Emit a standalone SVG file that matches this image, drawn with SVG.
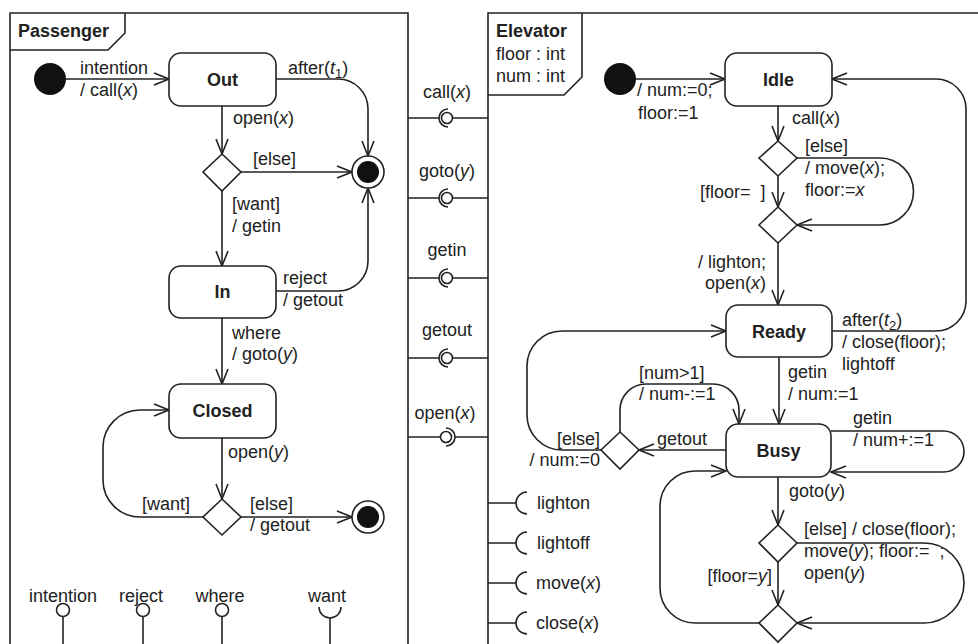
<svg xmlns="http://www.w3.org/2000/svg" width="978" height="644" viewBox="0 0 978 644">
<style>
.t{font-family:"Liberation Sans",Arial,sans-serif;font-size:18px;fill:#222}
.b{font-weight:bold}
.i{font-style:italic}
.e{text-anchor:end}
.m{text-anchor:middle}
.ln{fill:none;stroke:#222;stroke-width:1.6}
.ar{fill:none;stroke:#222;stroke-width:1.6;marker-end:url(#arr)}
.st{fill:#fff;stroke:#222;stroke-width:1.6}
.dot{fill:#111}
</style>
<defs>
<marker id="arr" viewBox="0 0 17 14" refX="16" refY="7" markerWidth="17" markerHeight="14" orient="auto" markerUnits="userSpaceOnUse">
<path d="M1,1 L16,7 L1,13" fill="none" stroke="#222" stroke-width="1.6"/>
</marker>
</defs>
<rect width="978" height="644" fill="#fff"/>

<g id="frame-passenger">
<path class="ln" d="M10,660 V13 H408 V660"/>
<path class="ln" d="M10,50 H108 L125,33 V13"/>
<text class="t b" x="18" y="37">Passenger</text>
</g>

<g id="frame-elevator">
<path class="ln" d="M488,660 V13 H990"/>
<path class="ln" d="M488,95 H564 L582,77 V13"/>
<text class="t b" x="496" y="37">Elevator</text>
<text class="t" x="496" y="60">floor : int</text>
<text class="t" x="496" y="82">num : int</text>
</g>

<g id="connectors">
<path class="ar" d="M66,79 H169"/>
<path class="ar" d="M276,79 H338 A30,30 0 0 1 368,109 V156"/>
<path class="ar" d="M222,106 V154"/>
<path class="ar" d="M241,172 H352"/>
<path class="ar" d="M222,191 V266"/>
<path class="ar" d="M276,291 H338 A30,30 0 0 0 368,261 V188"/>
<path class="ar" d="M222,318 V384"/>
<path class="ar" d="M222,438 V499"/>
<path class="ar" d="M203,517 H140 A37,37 0 0 1 103,480 V447 A37,37 0 0 1 140,410 H169"/>
<path class="ar" d="M241,517 H352"/>

<path class="ar" d="M636,79 H725"/>
<path class="ar" d="M778,106 V141"/>
<path class="ar" d="M778,176 V207"/>
<path class="ar" d="M797,158 H880 A33.5,33.5 0 0 1 880,225 H797"/>
<path class="ar" d="M778,243 V305"/>
<path class="ar" d="M832,331 H936 A30,30 0 0 0 966,301 V109 A30,30 0 0 0 936,79 H832"/>
<path class="ar" d="M779,357 V424"/>
<path class="ar" d="M831,431 H943.5 A20.5,20.5 0 0 1 943.5,472 H831"/>
<path class="ar" d="M726,450 H639"/>
<path class="ar" d="M620,432 V410 A26,26 0 0 1 646,384 H713 A26,26 0 0 1 739,410 V424"/>
<path class="ar" d="M601,450 H562 A35,35 0 0 1 527,415 V366 A35,35 0 0 1 562,331 H726"/>
<path class="ar" d="M778,477 V525"/>
<path class="ar" d="M778,562 V605"/>
<path class="ar" d="M797,543 H924 A40,40 0 0 1 924,623 H797"/>
<path class="ar" d="M759,623 H695 A35,35 0 0 1 660,588 V506 A35,35 0 0 1 695,471 H726"/>
</g>

<g id="connector-labels">
<text class="t" x="80" y="74">intention</text>
<text class="t" x="80" y="96">/ call(<tspan class="i">x</tspan>)</text>
<text class="t" x="288" y="74">after(<tspan class="i">t</tspan><tspan font-size="13" dy="4">1</tspan><tspan dy="-4">)</tspan></text>
<text class="t" x="233" y="124">open(<tspan class="i">x</tspan>)</text>
<text class="t" x="253" y="165">[else]</text>
<text class="t" x="232" y="210">[want]</text>
<text class="t" x="232" y="232">/ getin</text>
<text class="t" x="283" y="284">reject</text>
<text class="t" x="283" y="306">/ getout</text>
<text class="t" x="232" y="339">where</text>
<text class="t" x="232" y="360">/ goto(<tspan class="i">y</tspan>)</text>
<text class="t" x="228" y="458">open(<tspan class="i">y</tspan>)</text>
<text class="t" x="142" y="510">[want]</text>
<text class="t" x="250" y="510">[else]</text>
<text class="t" x="250" y="531">/ getout</text>

<text class="t" x="637" y="96">/ num:=0;</text>
<text class="t" x="638" y="119">floor:=1</text>
<text class="t" x="792" y="124">call(<tspan class="i">x</tspan>)</text>
<text class="t" x="805" y="152">[else]</text>
<text class="t" x="805" y="174">/ move(<tspan class="i">x</tspan>);</text>
<text class="t" x="805" y="196">floor:=<tspan class="i">x</tspan></text>
<text class="t" x="700" y="198" xml:space="preserve">[floor=  ]</text>
<text class="t e" x="766" y="268">/ lighton;</text>
<text class="t e" x="766" y="289">open(<tspan class="i">x</tspan>)</text>
<text class="t" x="842" y="326">after(<tspan class="i">t</tspan><tspan font-size="13" dy="4">2</tspan><tspan dy="-4">)</tspan></text>
<text class="t" x="842" y="348">/ close(floor);</text>
<text class="t" x="842" y="370">lightoff</text>
<text class="t" x="788" y="378">getin</text>
<text class="t" x="788" y="400">/ num:=1</text>
<text class="t" x="639" y="379">[num&gt;1]</text>
<text class="t" x="639" y="400">/ num-:=1</text>
<text class="t" x="657" y="445">getout</text>
<text class="t e" x="600" y="445">[else]</text>
<text class="t e" x="600" y="466">/ num:=0</text>
<text class="t" x="853" y="424">getin</text>
<text class="t" x="853" y="446">/ num+:=1</text>
<text class="t" x="789" y="497">goto(<tspan class="i">y</tspan>)</text>
<text class="t" x="804" y="535">[else] / close(floor);</text>
<text class="t" x="804" y="557" xml:space="preserve">move(<tspan class="i">y</tspan>); floor:=  ;</text>
<text class="t" x="804" y="579">open(<tspan class="i">y</tspan>)</text>
<text class="t e" x="772" y="582">[floor=<tspan class="i">y</tspan>]</text>
</g>

<g id="p-initial"><circle class="dot" cx="50" cy="79" r="16"/></g>
<g id="p-out"><rect class="st" x="169" y="53" width="107" height="53" rx="12"/><text class="t b m" x="222.5" y="86">Out</text></g>
<g id="p-choice1"><polygon class="st" points="222,154 241,172 222,191 203,172"/></g>
<g id="p-final1"><circle class="st" cx="368" cy="172" r="16"/><circle class="dot" cx="368" cy="172" r="11"/></g>
<g id="p-in"><rect class="st" x="169" y="266" width="107" height="52" rx="12"/><text class="t b m" x="222.5" y="298">In</text></g>
<g id="p-closed"><rect class="st" x="169" y="384" width="107" height="54" rx="12"/><text class="t b m" x="222.5" y="417">Closed</text></g>
<g id="p-choice2"><polygon class="st" points="222,499 241,517 222,535 203,517"/></g>
<g id="p-final2"><circle class="st" cx="368" cy="517" r="16"/><circle class="dot" cx="368" cy="517" r="11"/></g>

<g id="p-port-intention"><text class="t m" x="63" y="602">intention</text><circle class="st" cx="63" cy="610" r="6.5"/><path class="ln" d="M63,616.5 V660"/></g>
<g id="p-port-reject"><text class="t m" x="141" y="602">reject</text><circle class="st" cx="143" cy="610" r="6.5"/><path class="ln" d="M143,616.5 V660"/></g>
<g id="p-port-where"><text class="t m" x="220" y="602">where</text><circle class="st" cx="222" cy="610" r="6.5"/><path class="ln" d="M222,616.5 V660"/></g>
<g id="p-port-want"><text class="t m" x="327" y="602">want</text><path class="ln" d="M319,607 A11,11 0 0 0 341,607"/><path class="ln" d="M330,618 V660"/></g>

<g id="e-initial"><circle class="dot" cx="620" cy="79" r="16"/></g>
<g id="e-idle"><rect class="st" x="725" y="53" width="107" height="53" rx="12"/><text class="t b m" x="778.5" y="86">Idle</text></g>
<g id="e-choice3"><polygon class="st" points="778,141 797,158 778,176 759,158"/></g>
<g id="e-choice4"><polygon class="st" points="778,207 797,225 778,243 759,225"/></g>
<g id="e-ready"><rect class="st" x="726" y="305" width="106" height="52" rx="12"/><text class="t b m" x="779" y="338">Ready</text></g>
<g id="e-busy"><rect class="st" x="726" y="424" width="105" height="53" rx="12"/><text class="t b m" x="778.5" y="457">Busy</text></g>
<g id="e-choice5"><polygon class="st" points="620,432 639,450 620,469 601,450"/></g>
<g id="e-choice6"><polygon class="st" points="778,525 797,543 778,562 759,543"/></g>
<g id="e-choice7"><polygon class="st" points="778,605 797,623 778,642 759,623"/></g>

<g id="if-call"><text class="t m" x="447" y="98">call(<tspan class="i">x</tspan>)</text><path class="ln" d="M408,118 H439 M453,118 H488"/><path class="ln" d="M448,109 A9,9 0 0 0 448,127"/><circle class="st" cx="447" cy="118" r="5.5"/></g>
<g id="if-goto"><text class="t m" x="447" y="177">goto(<tspan class="i">y</tspan>)</text><path class="ln" d="M408,198 H439 M453,198 H488"/><path class="ln" d="M448,189 A9,9 0 0 0 448,207"/><circle class="st" cx="447" cy="198" r="5.5"/></g>
<g id="if-getin"><text class="t m" x="447" y="256">getin</text><path class="ln" d="M408,278 H439 M453,278 H488"/><path class="ln" d="M448,269 A9,9 0 0 0 448,287"/><circle class="st" cx="447" cy="278" r="5.5"/></g>
<g id="if-getout"><text class="t m" x="447" y="336">getout</text><path class="ln" d="M408,358 H439 M453,358 H488"/><path class="ln" d="M448,349 A9,9 0 0 0 448,367"/><circle class="st" cx="447" cy="358" r="5.5"/></g>
<g id="if-open"><text class="t m" x="445" y="419">open(<tspan class="i">x</tspan>)</text><path class="ln" d="M408,437 H440.5 M455,437 H488"/><path class="ln" d="M446,428 A9,9 0 0 1 446,446"/><circle class="st" cx="446" cy="437" r="5.5"/></g>

<g id="e-req-lighton"><path class="ln" d="M488,503 H516 M527,492 A11,11 0 0 0 527,514"/><text class="t" x="537" y="509">lighton</text></g>
<g id="e-req-lightoff"><path class="ln" d="M488,543 H516 M527,532 A11,11 0 0 0 527,554"/><text class="t" x="537" y="549">lightoff</text></g>
<g id="e-req-move"><path class="ln" d="M488,583 H516 M527,572 A11,11 0 0 0 527,594"/><text class="t" x="536" y="589">move(<tspan class="i">x</tspan>)</text></g>
<g id="e-req-close"><path class="ln" d="M488,623 H516 M527,612 A11,11 0 0 0 527,634"/><text class="t" x="536" y="629">close(<tspan class="i">x</tspan>)</text></g>
</svg>
